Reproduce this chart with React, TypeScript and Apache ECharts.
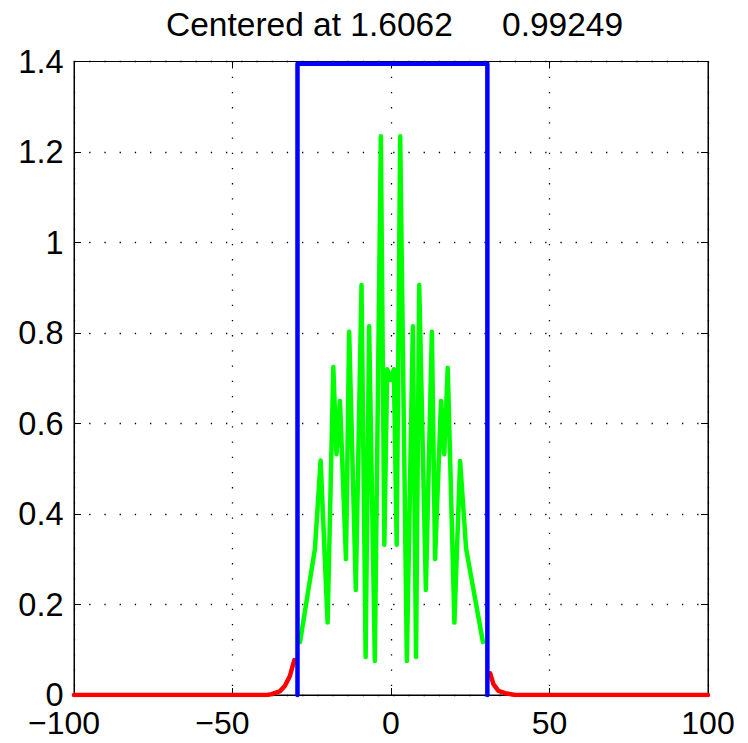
import React, { useEffect, useRef } from "react";
import * as echarts from "echarts";

const titleLeft = "Centered at 1.6062";
const titleRight = "0.99249";

const xTicks = [-100, -50, 0, 50, 100];
const yTicks = [0, 0.2, 0.4, 0.6, 0.8, 1, 1.2, 1.4];

const greenX = [-28.7, -24.0, -22.2, -20.0, -18.2, -17.2, -16.1, -14.2, -13.2, -11.1, -9.3, -8.0, -6.9, -5.1, -3.2, -2.1, -1.2, -0.1, 0.9, 1.8, 2.9, 5.0, 6.9, 7.9, 8.9, 11.0, 12.9, 13.9, 15.8, 16.8, 17.9, 20.0, 21.8, 23.7, 29.0];
const greenY = [0.117, 0.323, 0.518, 0.16, 0.725, 0.532, 0.65, 0.30, 0.803, 0.232, 0.906, 0.084, 0.815, 0.075, 1.235, 0.332, 0.72, 0.696, 0.72, 0.332, 1.235, 0.075, 0.815, 0.084, 0.906, 0.232, 0.803, 0.30, 0.65, 0.532, 0.723, 0.16, 0.517, 0.323, 0.117];

const redLeftX = [-100, -39, -37.7, -35.1, -33.5, -31.9, -30.5];
const redLeftY = [0, 0, 0.002, 0.008, 0.02, 0.042, 0.077];
const redRightX = [31.3, 32.3, 33.9, 36.0, 39.2, 100];
const redRightY = [0.048, 0.024, 0.009, 0.004, 0, 0];

const blueX = [-29.5, -29.5, 30.4, 30.4];
const blueY = [0, 1.395, 1.395, 0];

const zip = (xs: number[], ys: number[]) => xs.map((x, i) => [x, ys[i]]);

const FONT = "Liberation Sans, Arial, Helvetica, sans-serif";

export default function App() {
  const ref = useRef<HTMLDivElement>(null);
  useEffect(() => {
    if (!ref.current) return;
    const chart = echarts.init(ref.current, null, { renderer: "svg" });
    const xFmt = (v: number) => (v < 0 ? `{neg|\u2212${Math.abs(v)}}` : `${v}`);
    const lineStyleCommon = { cap: "round", join: "round" } as any;
    const titleStyle = { fontFamily: FONT, fontSize: 33.5, fontWeight: "normal", color: "#000" };
    chart.setOption({
      animation: false,
      backgroundColor: "#fff",
      title: [
        { text: titleLeft, left: 166, top: 7, padding: 0, textStyle: titleStyle },
        { text: titleRight, left: 502, top: 7, padding: 0, textStyle: titleStyle },
      ],
      grid: { left: 74, right: 40, top: 61.5, bottom: 48, show: true, borderColor: "#000", borderWidth: 1, backgroundColor: "transparent" },
      xAxis: [
        {
          type: "value", min: xTicks[0], max: xTicks[xTicks.length - 1], interval: 50, position: "bottom",
          axisLine: { show: true, onZero: false, lineStyle: { color: "#000", width: 1 } },
          axisTick: { show: true, inside: true, length: 7, lineStyle: { color: "#000" } },
          axisLabel: {
            show: true, formatter: xFmt, color: "#000", fontFamily: FONT, fontSize: 32, lineHeight: 24, margin: 16,
            rich: { neg: { color: "#000", fontFamily: FONT, fontSize: 32, lineHeight: 24, padding: [0, 20, 0, 0] } },
          },
          splitLine: { show: true, lineStyle: { color: "#000", width: 1.3, type: [1.3, 13.9] } },
        },
        {
          type: "value", min: xTicks[0], max: xTicks[xTicks.length - 1], interval: 50, position: "top",
          axisLine: { show: true, onZero: false, lineStyle: { color: "#000", width: 1 } },
          axisTick: { show: true, inside: true, length: 7, lineStyle: { color: "#000" } },
          axisLabel: { show: false }, splitLine: { show: false },
        },
      ],
      yAxis: [
        {
          type: "value", min: yTicks[0], max: yTicks[yTicks.length - 1], interval: 0.2, position: "left",
          axisLine: { show: true, onZero: false, lineStyle: { color: "#000", width: 1 } },
          axisTick: { show: true, inside: true, length: 7, lineStyle: { color: "#000" } },
          axisLabel: { show: true, color: "#000", fontFamily: FONT, fontSize: 32.5, lineHeight: 24, margin: 10.5 },
          splitLine: { show: true, lineStyle: { color: "#000", width: 1.3, type: [1.3, 13.9] } },
        },
        {
          type: "value", min: yTicks[0], max: yTicks[yTicks.length - 1], interval: 0.2, position: "right",
          axisLine: { show: true, onZero: false, lineStyle: { color: "#000", width: 1 } },
          axisTick: { show: true, inside: true, length: 7, lineStyle: { color: "#000" } },
          axisLabel: { show: false }, splitLine: { show: false },
        },
      ],
      series: [
        { type: "line", data: zip(redLeftX, redLeftY), showSymbol: false, symbol: "none", lineStyle: { color: "#ff0000", width: 4.5, ...lineStyleCommon }, z: 2 },
        { type: "line", data: zip(redRightX, redRightY), showSymbol: false, symbol: "none", lineStyle: { color: "#ff0000", width: 4.5, ...lineStyleCommon }, z: 2 },
        { type: "line", data: zip(greenX, greenY), showSymbol: false, symbol: "none", lineStyle: { color: "#00ff00", width: 4.5, ...lineStyleCommon }, z: 3 },
        { type: "line", data: zip(blueX, blueY), showSymbol: false, symbol: "none", clip: false, lineStyle: { color: "#0000ff", width: 4.5, ...lineStyleCommon }, z: 4 },
      ],
    });
    return () => chart.dispose();
  }, []);
  return <div ref={ref} style={{ position: "fixed", left: 0, top: 0, width: 748, height: 743 }} />;
}
